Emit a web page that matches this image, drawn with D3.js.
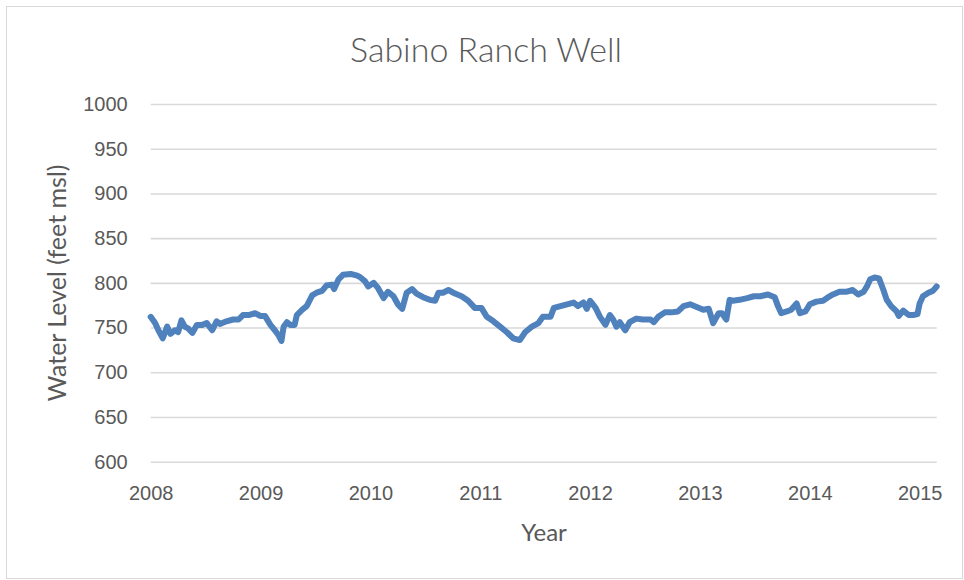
<!DOCTYPE html>
<html>
<head>
<meta charset="utf-8">
<script src="https://cdn.jsdelivr.net/npm/d3@7"></script>
<style>
  html, body { margin: 0; padding: 0; background: #fff; }
  svg { display: block; font-family: Lato, "Open Sans", sans-serif; }
</style>
</head>
<body>
<svg id="chart" width="964" height="580"></svg>
<script>
// Water level readings, Sabino Ranch Well (decimal year, feet above mean sea level)
const years = [
  2008.00, 2008.04, 2008.07, 2008.11, 2008.15, 2008.18, 2008.22, 2008.25, 2008.28, 2008.31,
  2008.34, 2008.38, 2008.42, 2008.47, 2008.51, 2008.56, 2008.60, 2008.63, 2008.69, 2008.75,
  2008.80, 2008.84, 2008.89, 2008.95, 2009.00, 2009.04, 2009.09, 2009.13, 2009.16, 2009.19,
  2009.21, 2009.24, 2009.27, 2009.31, 2009.33, 2009.38, 2009.42, 2009.47, 2009.51, 2009.56,
  2009.60, 2009.65, 2009.67, 2009.71, 2009.75, 2009.82, 2009.88, 2009.91, 2009.95, 2009.98,
  2010.03, 2010.07, 2010.12, 2010.16, 2010.21, 2010.25, 2010.29, 2010.33, 2010.38, 2010.42,
  2010.48, 2010.54, 2010.59, 2010.62, 2010.66, 2010.71, 2010.77, 2010.83, 2010.89, 2010.95,
  2011.01, 2011.06, 2011.12, 2011.18, 2011.24, 2011.30, 2011.36, 2011.41, 2011.47, 2011.53,
  2011.57, 2011.64, 2011.67, 2011.73, 2011.79, 2011.85, 2011.89, 2011.94, 2011.97, 2012.00,
  2012.05, 2012.09, 2012.14, 2012.18, 2012.21, 2012.24, 2012.27, 2012.32, 2012.36, 2012.42,
  2012.48, 2012.55, 2012.58, 2012.62, 2012.68, 2012.74, 2012.80, 2012.85, 2012.91, 2012.97,
  2013.03, 2013.08, 2013.12, 2013.17, 2013.20, 2013.24, 2013.27, 2013.30, 2013.36, 2013.43,
  2013.49, 2013.55, 2013.62, 2013.68, 2013.71, 2013.74, 2013.79, 2013.83, 2013.88, 2013.91,
  2013.96, 2014.00, 2014.06, 2014.12, 2014.18, 2014.21, 2014.27, 2014.33, 2014.39, 2014.44,
  2014.49, 2014.52, 2014.55, 2014.59, 2014.63, 2014.67, 2014.70, 2014.74, 2014.79, 2014.81,
  2014.85, 2014.90, 2014.94, 2014.98, 2015.00, 2015.03, 2015.08, 2015.12, 2015.155
];
const levels = [
  762, 755, 747, 738, 751, 743, 747, 745, 758, 751,
  749, 744, 753, 753, 755, 747, 757, 754, 757, 759,
  759, 764, 764, 766, 763, 763, 753, 747, 742, 735,
  751, 756, 753, 753, 764, 770, 774, 786, 789, 791,
  797, 798, 793, 804, 809, 810, 808, 806, 802, 796,
  800, 794, 783, 790, 785, 776, 771, 789, 793, 788,
  784, 781, 780, 789, 789, 792, 788, 785, 780, 772,
  772, 762, 757, 751, 745, 738, 736, 745, 751, 755,
  762, 762, 772, 774, 776, 778, 774, 778, 771, 780,
  772, 762, 753, 764, 759, 751, 756, 747, 756, 760,
  759, 759, 756, 762, 767, 767, 768, 774, 776, 773,
  770, 771, 755, 766, 766, 759, 781, 780, 781, 783,
  785, 785, 787, 784, 774, 766, 768, 770, 777, 766,
  768, 776, 779, 780, 785, 787, 790, 790, 792, 787,
  790, 796, 804, 806, 805, 792, 781, 774, 768, 763,
  769, 764, 764, 765, 777, 785, 789, 791, 796
];

const yTicks = [600, 650, 700, 750, 800, 850, 900, 950, 1000];
const xTicks = [2008, 2009, 2010, 2011, 2012, 2013, 2014, 2015];

const title = "Sabino Ranch Well";
const xTitle = "Year";
const yTitle = "Water Level (feet msl)";

const data = years.map((t, i) => ({ t, v: levels[i] }));

const W = 964, H = 580;
const plot = { left: 150.7, right: 936.7, top: 104, bottom: 461.7 };
const textColor = "#595959";
const gridColor = "#d9d9d9";
const lineColor = "#4f81bd";

const svg = d3.select("#chart");

// chart frame
svg.append("rect")
  .attr("x", 6.5).attr("y", 6.5)
  .attr("width", W - 8).attr("height", H - 8)
  .attr("fill", "#fff")
  .attr("stroke", gridColor).attr("stroke-width", 1);

const x = d3.scaleLinear()
  .domain([2008, d3.max(years)])
  .range([plot.left, plot.right]);

const y = d3.scaleLinear()
  .domain([600, 1000])
  .range([plot.bottom, plot.top]);

// horizontal gridlines with value labels
const yAxis = d3.axisLeft(y)
  .tickValues(yTicks)
  .tickSize(-(plot.right - plot.left))
  .tickPadding(23)
  .tickFormat(d3.format("d"));

const gy = svg.append("g")
  .attr("transform", `translate(${plot.left},0)`)
  .call(yAxis);
gy.select(".domain").remove();
gy.selectAll(".tick line")
  .attr("stroke", gridColor).attr("stroke-width", 1.6);
gy.selectAll(".tick text")
  .attr("fill", textColor)
  .attr("font-size", 20);

// year labels below the plot
const xAxis = d3.axisBottom(x)
  .tickValues(xTicks)
  .tickSize(0)
  .tickPadding(24)
  .tickFormat(d3.format("d"));

const gx = svg.append("g")
  .attr("transform", `translate(0,${plot.bottom})`)
  .call(xAxis);
gx.select(".domain").remove();
gx.selectAll(".tick text")
  .attr("fill", textColor)
  .attr("font-size", 20);

// water level trace
const line = d3.line()
  .x(d => x(d.t))
  .y(d => y(d.v));

svg.append("path")
  .datum(data)
  .attr("d", line)
  .attr("fill", "none")
  .attr("stroke", lineColor)
  .attr("stroke-width", 6)
  .attr("stroke-linejoin", "round")
  .attr("stroke-linecap", "round");

// titles
svg.append("text")
  .attr("x", 486)
  .attr("y", 62)
  .attr("text-anchor", "middle")
  .attr("fill", textColor)
  .attr("font-size", 34)
  .attr("font-weight", 300)
  .text(title);

svg.append("text")
  .attr("x", 544)
  .attr("y", 541)
  .attr("text-anchor", "middle")
  .attr("fill", textColor)
  .attr("font-size", 24)
  .text(xTitle);

svg.append("text")
  .attr("transform", `translate(66,283) rotate(-90)`)
  .attr("text-anchor", "middle")
  .attr("fill", textColor)
  .attr("font-size", 25)
  .text(yTitle);
</script>
</body>
</html>
